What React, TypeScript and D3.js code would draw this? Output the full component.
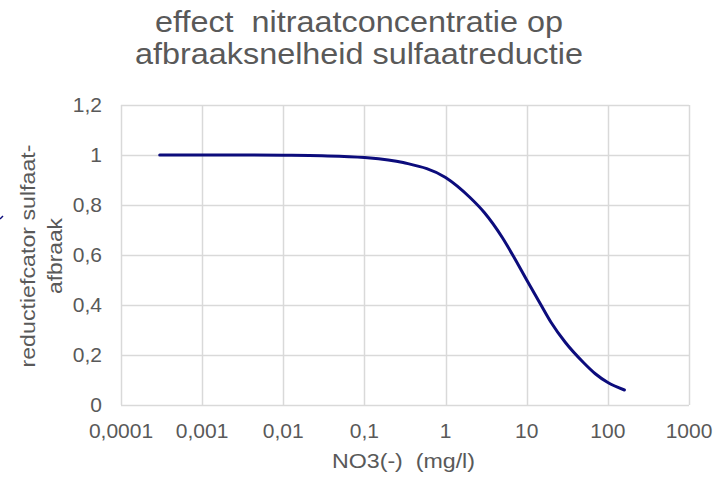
import { useEffect, useRef } from "react";
import * as d3 from "d3";

// NO3 concentration (mg/l) and reduction factor
const nitrate = [0.0003, 0.001, 0.003, 0.01, 0.03, 0.1, 0.3, 1, 2, 3, 5, 7, 10, 15, 20, 30, 50, 70, 100, 160];
const factor = [1, 1, 1, 0.999, 0.997, 0.99, 0.97, 0.91, 0.83, 0.77, 0.67, 0.59, 0.5, 0.4, 0.33, 0.25, 0.17, 0.125, 0.09, 0.06];

const xTicks = [0.0001, 0.001, 0.01, 0.1, 1, 10, 100, 1000];
const xTickLabels = ["0,0001", "0,001", "0,01", "0,1", "1", "10", "100", "1000"];
const yTicks = [0, 0.2, 0.4, 0.6, 0.8, 1, 1.2];

const titleLines = ["effect  nitraatconcentratie op", "afbraaksnelheid sulfaatreductie"];
const titleWidths = [408, 448];
const yTitleLines = ["reductiefcator sulfaat-", "afbraak"];
const yTitleWidths = [223, 76];
const xTitle = "NO3(-)  (mg/l)";

function App() {
    const svgRef = useRef<SVGSVGElement>(null);

    useEffect(() => {
        const svg = d3.select(svgRef.current);
        svg.selectAll("*").remove();

        const width = 722;
        const height = 477;
        const m = { left: 121, right: 689, top: 105, bottom: 405 };
        const font = "'Liberation Sans', Arial, sans-serif";
        const textColor = "#595959";

        const x = d3.scaleLog().domain([0.0001, 1000]).range([m.left, m.right]);
        const y = d3.scaleLinear().domain([0, 1.2]).range([m.bottom, m.top]);

        svg.attr("width", width).attr("height", height);
        svg.append("rect").attr("width", width).attr("height", height).attr("fill", "#fff");

        // grid
        svg.append("g")
            .selectAll("line")
            .data(yTicks)
            .join("line")
            .attr("x1", m.left)
            .attr("x2", m.right)
            .attr("y1", d => Math.round(y(d)) + 0.5)
            .attr("y2", d => Math.round(y(d)) + 0.5)
            .attr("stroke", "#d9d9d9")
            .attr("stroke-width", 1.5);

        svg.append("g")
            .selectAll("line")
            .data(xTicks)
            .join("line")
            .attr("x1", d => Math.round(x(d)) + 0.5)
            .attr("x2", d => Math.round(x(d)) + 0.5)
            .attr("y1", m.top)
            .attr("y2", m.bottom)
            .attr("stroke", "#d9d9d9")
            .attr("stroke-width", 1.5);

        // tick labels
        svg.append("g")
            .selectAll("text")
            .data(yTicks)
            .join("text")
            .attr("x", 102)
            .attr("y", d => y(d))
            .attr("dy", "0.35em")
            .attr("text-anchor", "end")
            .attr("font-family", font)
            .attr("font-size", 21)
            .attr("fill", textColor)
            .text(d => d3.format(".1~f")(d).replace(".", ","));

        svg.append("g")
            .selectAll("text")
            .data(xTicks)
            .join("text")
            .attr("x", d => x(d))
            .attr("y", 438)
            .attr("text-anchor", "middle")
            .attr("font-family", font)
            .attr("font-size", 21)
            .attr("fill", textColor)
            .text((d, i) => xTickLabels[i]);

        // curve
        const pts: [number, number][] = nitrate.map((n, i) => [x(n), y(factor[i])]);
        svg.append("path")
            .attr("d", d3.line().curve(d3.curveMonotoneX)(pts))
            .attr("fill", "none")
            .attr("stroke", "#0c0c7c")
            .attr("stroke-width", 3)
            .attr("stroke-linecap", "round");

        // titles
        svg.append("g")
            .selectAll("text")
            .data(titleLines)
            .join("text")
            .attr("x", (d, i) => [155, 135][i])
            .attr("y", (d, i) => 32 + i * 32)
            .attr("textLength", (d, i) => titleWidths[i])
            .attr("lengthAdjust", "spacingAndGlyphs")
            .attr("font-family", font)
            .attr("font-size", 29)
            .attr("fill", textColor)
            .style("white-space", "pre")
            .text(d => d);

        svg.append("text")
            .attr("x", 332)
            .attr("y", 468)
            .attr("textLength", 143)
            .attr("lengthAdjust", "spacingAndGlyphs")
            .attr("font-family", font)
            .attr("font-size", 21)
            .attr("fill", textColor)
            .style("white-space", "pre")
            .text(xTitle);

        svg.append("g")
            .attr("transform", "translate(0,256) rotate(-90)")
            .selectAll("text")
            .data(yTitleLines)
            .join("text")
            .attr("x", (d, i) => -yTitleWidths[i] / 2)
            .attr("y", (d, i) => 35 + i * 27)
            .attr("textLength", (d, i) => yTitleWidths[i])
            .attr("lengthAdjust", "spacingAndGlyphs")
            .attr("font-family", font)
            .attr("font-size", 21)
            .attr("fill", textColor)
            .text(d => d);

        // small blue mark at the left edge
        svg.append("path")
            .attr("d", "M0,219 L3,216")
            .attr("stroke", "#0c0c7c")
            .attr("stroke-width", 1.5);
    }, []);

    return (
        <svg ref={svgRef} style={{ position: "absolute", left: 0, top: 0, display: "block" }}></svg>
    );
}

export default App;
